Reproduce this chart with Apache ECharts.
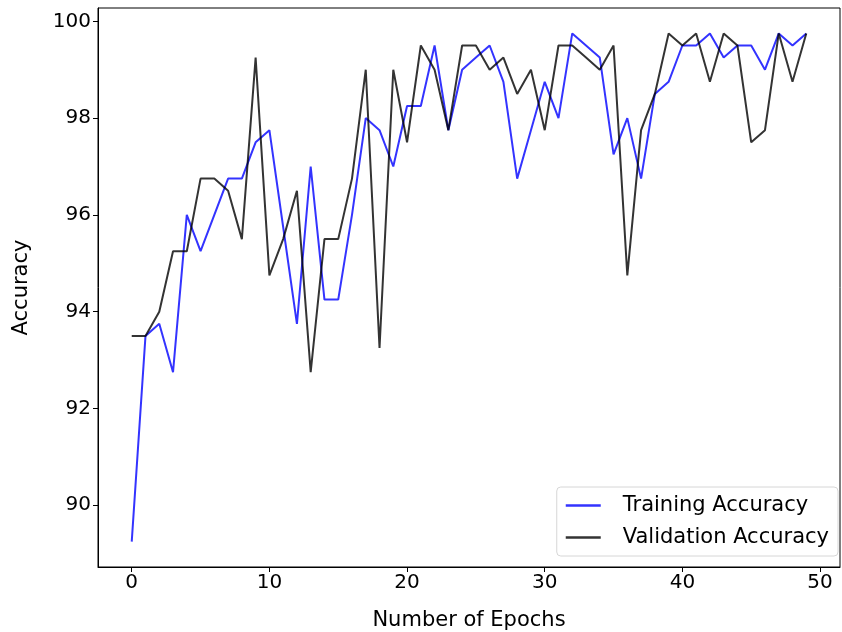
<!DOCTYPE html>
<html>
<head>
<meta charset="utf-8">
<script src="https://cdn.jsdelivr.net/npm/echarts@6/dist/echarts.min.js"></script>
<style>
  html, body { margin: 0; padding: 0; background: #fff; }
  #chart { width: 842px; height: 632px; }
</style>
</head>
<body>
<div id="chart"></div>
<script>
// accuracy per epoch
var epochs = [];
for (var i = 0; i < 50; i++) epochs.push(i);

var trainAcc = [89.25, 93.5, 93.75, 92.75, 96.0, 95.25, 96.0, 96.75, 96.75, 97.5,
                97.75, 95.75, 93.75, 97.0, 94.25, 94.25, 96.0, 98.0, 97.75, 97.0,
                98.25, 98.25, 99.5, 97.75, 99.0, 99.25, 99.5, 98.75, 96.75, 97.75,
                98.75, 98.0, 99.75, 99.5, 99.25, 97.25, 98.0, 96.75, 98.5, 98.75,
                99.5, 99.5, 99.75, 99.25, 99.5, 99.5, 99.0, 99.75, 99.5, 99.75];

var valAcc = [93.5, 93.5, 94.0, 95.25, 95.25, 96.75, 96.75, 96.5, 95.5, 99.25,
              94.75, 95.5, 96.5, 92.75, 95.5, 95.5, 96.75, 99.0, 93.25, 99.0,
              97.5, 99.5, 99.0, 97.75, 99.5, 99.5, 99.0, 99.25, 98.5, 99.0,
              97.75, 99.5, 99.5, 99.25, 99.0, 99.5, 94.75, 97.75, 98.5, 99.75,
              99.5, 99.75, 98.75, 99.75, 99.5, 97.5, 97.75, 99.75, 98.75, 99.75];

var xTicks = [0, 10, 20, 30, 40, 50];
var yTicks = [90, 92, 94, 96, 98, 100];

function pairs(vals) {
    return vals.map(function (v, i) { return [epochs[i], v]; });
}

var font = 'DejaVu Sans';
var fs = 20;     // tick labels
var fsName = 21; // axis names + legend
var chart = echarts.init(document.getElementById('chart'));
chart.setOption({
    animation: false,
    textStyle: { fontFamily: font },
    grid: {
        left: 98, right: 2, top: 8, bottom: 65,
        containLabel: false, outerBoundsMode: 'none',
        show: true, borderColor: '#000', borderWidth: 1
    },
    legend: {
        orient: 'vertical',
        right: 4, bottom: 76,
        icon: 'rect',
        itemWidth: 35, itemHeight: 2.5, itemGap: 11,
        padding: [8, 9, 8, 9],
        backgroundColor: 'rgba(255,255,255,0.8)',
        borderColor: '#d6d6d6', borderWidth: 1, borderRadius: 4,
        textStyle: { fontFamily: font, fontSize: fsName, color: '#000', padding: [0, 0, 0, 17] },
        data: ['Training Accuracy', 'Validation Accuracy']
    },
    xAxis: {
        type: 'value', min: -2.45, max: 51.45,
        name: 'Number of Epochs', nameLocation: 'middle', nameGap: 43,
        nameTextStyle: { fontFamily: font, fontSize: fsName, color: '#000' },
        axisLine: { onZero: false, lineStyle: { color: '#000', width: 1 } },
        axisTick: { customValues: xTicks, length: 5, lineStyle: { color: '#000' } },
        axisLabel: { customValues: xTicks, margin: 6, fontSize: fs, color: '#000' },
        splitLine: { show: false }
    },
    yAxis: {
        type: 'value', min: 88.725, max: 100.275,
        name: 'Accuracy', nameLocation: 'middle', nameGap: 66,
        nameTextStyle: { fontFamily: font, fontSize: fsName, color: '#000' },
        axisLine: { show: true, onZero: false, lineStyle: { color: '#000', width: 1 } },
        axisTick: { show: true, customValues: yTicks, length: 5, lineStyle: { color: '#000' } },
        axisLabel: { customValues: yTicks, margin: 7, fontSize: fs, color: '#000' },
        splitLine: { show: false }
    },
    series: [
        {
            name: 'Training Accuracy',
            type: 'line',
            symbol: 'none',
            data: pairs(trainAcc),
            lineStyle: { color: 'rgba(0,0,255,0.8)', width: 2 },
            itemStyle: { color: 'rgba(0,0,255,0.8)' }
        },
        {
            name: 'Validation Accuracy',
            type: 'line',
            symbol: 'none',
            data: pairs(valAcc),
            lineStyle: { color: 'rgba(0,0,0,0.8)', width: 2 },
            itemStyle: { color: 'rgba(0,0,0,0.8)' }
        }
    ]
});
</script>
</body>
</html>
